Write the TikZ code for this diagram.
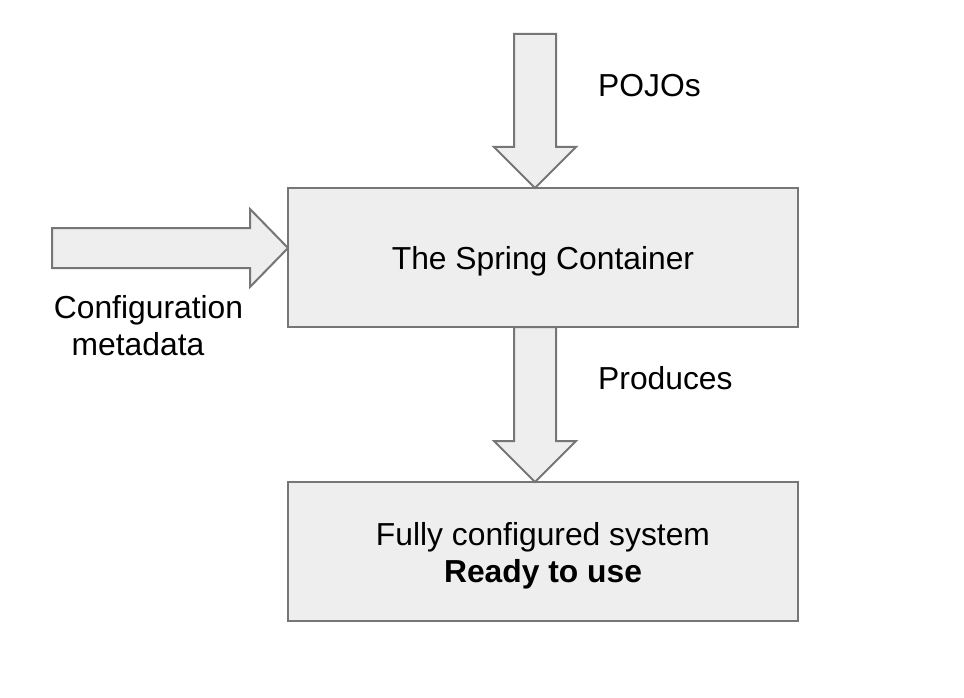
\documentclass[tikz,border=0pt]{standalone}
\usepackage{fontspec}
\setmainfont{Liberation Sans}
\definecolor{edge}{HTML}{767676}
\definecolor{boxfill}{HTML}{EEEEEE}
\tikzset{
  blk/.style={draw=edge, fill=boxfill, line width=2pt, line join=miter},
  lbl/.style={font=\fontsize{31.8}{38}\selectfont, text=black, inner sep=0pt, anchor=base},
}
\begin{document}
\begin{tikzpicture}[x=1pt,y=-1pt]
\useasboundingbox (0,0) rectangle (964,698);
\fill[white] (0,0) rectangle (964,698);
% boxes
\draw[blk] (288,188) rectangle (798,327);
\draw[blk] (288,482) rectangle (798,621);
% top arrow (POJOs)
\draw[blk] (514,34) -- (556,34) -- (556,147) -- (576,147) -- (535,188) -- (494,147) -- (514,147) -- cycle;
% left arrow (configuration metadata)
\draw[blk] (52,228) -- (250,228) -- (250,209) -- (288,248) -- (250,287) -- (250,268) -- (52,268) -- cycle;
% middle arrow (produces)
\draw[blk] (514,327) -- (556,327) -- (556,441) -- (576,441) -- (535,482) -- (494,441) -- (514,441) -- cycle;
\draw[edge, line width=2pt] (288,188) -- (798,188);
\draw[edge, line width=2pt] (288,482) -- (798,482);
% texts
\node[lbl] (tsc) at (543,269) {The Spring Container};
\node[lbl, anchor=base west] (pojo) at (598,97) {POJOs};
\node[lbl, anchor=base west] (prod) at (598,389) {Produces};
\node[lbl] (cfg1) at (148.5,318) {Configuration};
\node[lbl] (cfg2) at (138,355) {metadata};
\node[lbl] (fc1) at (543,545) {Fully configured system};
\node[lbl, font=\fontsize{31.8}{38}\selectfont\bfseries] (fc2) at (543,582) {Ready to use};
\end{tikzpicture}
\end{document}
